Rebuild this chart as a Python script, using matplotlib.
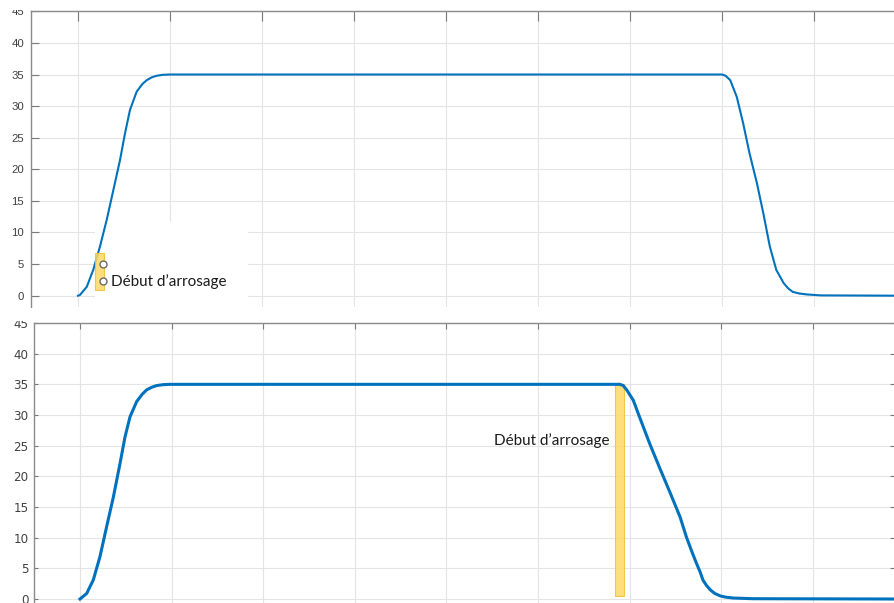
import matplotlib.pyplot as plt
from matplotlib.patches import Rectangle

# courbe du haut (unites de grille en x)
top_x = [0, 0.02, 0.095, 0.166, 0.239, 0.312, 0.384, 0.457, 0.511, 0.565, 0.638,
         0.70, 0.747, 0.80, 0.855, 0.92, 1.0,
         7.0, 7.04, 7.09, 7.16, 7.23, 7.30, 7.38, 7.45, 7.52, 7.59, 7.67, 7.72,
         7.77, 7.84, 7.92, 8.07, 8.9]
top_y = [0, 0.1, 1.4, 4.1, 7.8, 12.0, 16.7, 21.5, 25.7, 29.4, 32.3,
         33.5, 34.1, 34.55, 34.8, 34.95, 35.0,
         35.0, 34.8, 34.1, 31.5, 27.3, 22.5, 17.8, 13.0, 7.8, 4.1, 2.0, 1.15,
         0.6, 0.35, 0.2, 0.05, 0]

# courbe du bas
bot_x = [0, 0.073, 0.145, 0.218, 0.291, 0.364, 0.437, 0.491, 0.546, 0.619,
         0.68, 0.728, 0.78, 0.837, 0.91, 0.983,
         5.895, 5.93, 5.968, 6.04, 6.11, 6.22, 6.33, 6.44, 6.55, 6.62, 6.68,
         6.73, 6.77, 6.80, 6.84, 6.88, 6.93, 6.99, 7.05, 7.13, 7.35, 8.9]
bot_y = [0, 0.9, 3.1, 6.9, 11.8, 16.6, 22.1, 26.4, 29.7, 32.2,
         33.4, 34.1, 34.5, 34.8, 34.95, 35.0,
         35.0, 34.8, 34.1, 32.4, 29.6, 25.3, 21.3, 17.4, 13.4, 10.1, 7.7,
         5.8, 4.4, 3.1, 2.2, 1.5, 0.9, 0.5, 0.3, 0.16, 0.05, 0]

yticks = list(range(0, 50, 5))
xticks = list(range(0, 9))
label = 'Début d’arrosage'

W, H = 894, 603
blue = '#0072BD'


def px_box(l, t, r, b):
    return [l / W, 1 - b / H, (r - l) / W, (b - t) / H]


def style(ax, xlim, ylim, tlen, font, fsize, pad):
    ax.set_xticks(xticks)
    ax.set_yticks(yticks)
    ax.set_xlim(*xlim)
    ax.set_ylim(*ylim)
    ax.set_axisbelow(True)
    ax.grid(True, color='#e4e4e4', lw=0.8)
    for s in ('bottom', 'right'):
        ax.spines[s].set_visible(False)
    for s in ('top', 'left'):
        ax.spines[s].set_color('#8a8a8a')
        ax.spines[s].set_linewidth(1.0)
    ax.tick_params(axis='x', bottom=False, top=True, labelbottom=False,
                   labeltop=False, direction='in', length=tlen, color='#7a7a7a')
    ax.tick_params(axis='y', direction='in', length=tlen * 0.8, color='#7a7a7a',
                   labelcolor='#404040', pad=pad)
    for t in ax.get_yticklabels():
        t.set_fontfamily(font)
        t.set_fontsize(fsize)


fig = plt.figure(figsize=(8.94, 6.03), dpi=100)

# ---- panneau du haut
ax1 = fig.add_axes(px_box(31, 11, 894, 307))
style(ax1, (-0.511, 8.87), (-1.79, 45.05), 7, 'Liberation Sans', 8.2, 5)
ax1.plot(top_x, top_y, color=blue, lw=1.5, zorder=3)
# zone blanche de l'etiquette
ax1.add_patch(Rectangle((0.19, -3), 1.66, 14.6, facecolor='white',
                        edgecolor='none', zorder=1))
ax1.add_patch(Rectangle((0.185, 0.9), 0.098, 5.9, facecolor='#FFD966',
                        edgecolor='#F2C12E', lw=0.8, alpha=0.85, zorder=4))
ax1.plot([0.268, 0.268], [5.0, 2.3], ls='none', marker='o', ms=5,
         mfc='white', mec='#6a6a6a', mew=1, zorder=5)
ax1.text(0.36, 2.3, label, fontfamily='Lato', fontsize=11, color='#1a1a1a',
         ha='left', va='center', zorder=6)

# ---- panneau du bas
ax2 = fig.add_axes(px_box(34, 323, 894, 603))
style(ax2, (-0.502, 8.886), (-0.65, 45.0), 4, 'DejaVu Sans', 8.6, 4)
ax2.tick_params(axis='y', right=True)
ax2.plot(bot_x, bot_y, color=blue, lw=2.2, zorder=3)
ax2.add_patch(Rectangle((5.84, 0.55), 0.10, 34.45, facecolor='#FFD966',
                        edgecolor='#F2C12E', lw=0.8, alpha=0.85, zorder=2))
ax2.text(5.775, 25.9, label, fontfamily='Lato', fontsize=11, color='#1a1a1a',
         ha='right', va='center', zorder=6)

# bords du collage d'ecran qui coupent les "45"
for (l, t, r, b) in [(0, 0, 30, 10), (0, 308, 33, 321)]:
    fig.patches.append(Rectangle((l / W, 1 - b / H), (r - l) / W, (b - t) / H,
                                 transform=fig.transFigure, facecolor='white',
                                 edgecolor='none', zorder=10))

fig.savefig('out.png', dpi=100)
